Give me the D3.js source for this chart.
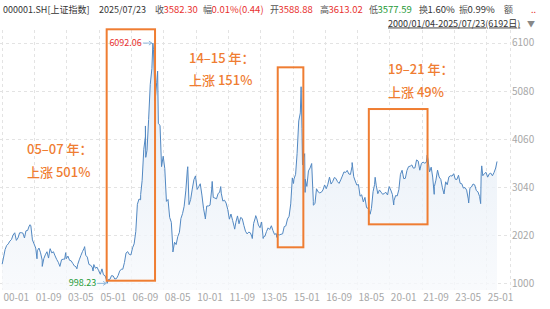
<!DOCTYPE html>
<html>
<head>
<meta charset="utf-8">
<script src="https://cdn.jsdelivr.net/npm/d3@7"></script>
<style>
  body { margin: 0; background: #fff; }
  svg { display: block; font-family: "Noto Sans CJK SC", "Noto Sans", sans-serif; }
</style>
</head>
<body>
<div id="chart"></div>
<script>
// Month-end closes of the Shanghai Composite, 2000-01 .. 2025-06.
var firstYear = 2000;
var monthlyClose = [
  1535, 1714, 1800, 1836, 1894, 1928, 2023, 2071, 1910, 1961, 2070, 2073,
  2066, 1960, 2112, 2120, 2214, 2218, 1920, 1834, 1747, 1690, 1747, 1646,
  1491, 1524, 1604, 1669, 1535, 1733, 1644, 1669, 1581, 1507, 1445, 1358,
  1500, 1511, 1511, 1521, 1577, 1487, 1477, 1421, 1367, 1349, 1397, 1497,
  1590, 1676, 1742, 1595, 1555, 1399, 1386, 1342, 1397, 1320, 1341, 1267,
  1191, 1306, 1181, 1160, 1060, 1081, 1083, 1163, 1155, 1092, 1099, 1161,
  1258, 1299, 1299, 1440, 1641, 1672, 1612, 1601, 1752, 1837, 2099, 2675,
  2786, 2881, 3183, 3841, 4109, 3820, 4471, 5218, 5552, 5954, 4871, 5262,
  4383, 4349, 3473, 3693, 3433, 2736, 2776, 2397, 2293, 1729, 1871, 1821,
  1991, 2082, 2373, 2477, 2633, 2959, 3412, 2667, 2779, 2996, 3195, 3277,
  2989, 3051, 3110, 2870, 2592, 2398, 2638, 2639, 2656, 2979, 2820, 2808,
  2790, 2905, 2928, 2911, 2743, 2762, 2701, 2568, 2359, 2468, 2333, 2199,
  2292, 2428, 2262, 2396, 2372, 2225, 2103, 2047, 2086, 2069, 1980, 2269,
  2385, 2365, 2236, 2177, 2300, 1979, 1994, 2098, 2175, 2141, 2220, 2116,
  2033, 2056, 2033, 2026, 2039, 2048, 2201, 2217, 2364, 2420, 2683, 3235,
  3210, 3310, 3748, 4441, 4612, 4277, 3664, 3206, 3053, 3383, 3445, 3539,
  2738, 2688, 3004, 2938, 2917, 2930, 2979, 3085, 3005, 3100, 3250, 3104,
  3159, 3242, 3223, 3155, 3117, 3192, 3273, 3361, 3349, 3393, 3317, 3307,
  3481, 3259, 3169, 3082, 3095, 2847, 2876, 2725, 2821, 2603, 2588, 2494,
  2585, 2941, 3091, 3078, 2899, 2979, 2933, 2886, 2905, 2929, 2872, 3050,
  2977, 2880, 2750, 2860, 2852, 2985, 3310, 3396, 3218, 3225, 3392, 3473,
  3483, 3509, 3441, 3447, 3615, 3591, 3397, 3544, 3568, 3547, 3564, 3640,
  3362, 3462, 3252, 3047, 3186, 3399, 3253, 3202, 3024, 2893, 3151, 3089,
  3256, 3280, 3273, 3323, 3205, 3202, 3291, 3120, 3110, 3018, 3030, 2975,
  2789, 3015, 3041, 3105, 3087, 2967, 2939, 2842, 3336, 3280, 3326, 3352,
  3250, 3321, 3336, 3279, 3347, 3444
];

// Intra-month turning points that show in the picture.
var keyDates = [
  "2000-01-04", "2001-06-13", "2001-10-22", "2002-01-29", "2002-06-25", "2003-04-15",
  "2003-11-13", "2004-04-07", "2004-09-13", "2005-06-06", "2007-02-27", "2007-05-29",
  "2007-06-04", "2007-10-16", "2008-01-14", "2008-10-28", "2009-08-04", "2010-07-02",
  "2010-11-08", "2011-04-18", "2012-01-06", "2012-12-03", "2013-02-06", "2013-06-27",
  "2014-03-10", "2015-01-19", "2015-06-12", "2015-07-08", "2015-07-24", "2015-08-18",
  "2015-08-26", "2016-01-28", "2018-01-29", "2019-01-03", "2019-04-08", "2020-03-23",
  "2021-12-13", "2022-04-26", "2024-02-05", "2024-09-18", "2024-10-08", "2025-07-23"
];
var keyValues = [
  1406, 2242, 1520, 1358, 1732, 1649,
  1307, 1777, 1260, 998.23, 2771, 4335,
  3670, 6092.06, 5497, 1664, 3471, 2363,
  3159, 3050, 2148, 1949, 2434, 1950,
  1974, 3116, 5166, 3507, 4070, 3748,
  2927, 2656, 3559, 2464, 3247, 2660,
  3715, 2886, 2702, 2689, 3489, 3582.30
];

var xTickLabels = ["00-01", "01-09", "03-05", "05-01", "06-09", "08-05", "10-01", "11-09",
                   "13-05", "15-01", "16-09", "18-05", "20-01", "21-09", "23-05", "25-01"];
var yTicks = [1000, 2020, 3040, 4060, 5080, 6100];

// Boxes around the three rallies: start, end, upper and lower index level.
var rallyFrom = ["2005-05-28", "2014-03-28", "2018-12-10"];
var rallyTo = ["2007-11-26", "2015-07-24", "2021-12-21"];
var rallyTop = [6384, 5578, 4694];
var rallyBottom = [1055, 1763, 2250];
var rallyYears = ["05–07 年：", "14–15 年：", "19–21 年："];
var rallyGain = ["上涨 501%", "上涨 151%", "上涨 49%"];

var quoteTitle = "000001.SH[上证指数]";
var quoteDate = "2025/07/23";
var quoteRange = "2000/01/04-2025/07/23(6192日)";

var width = 550, height = 309;
var red = "#e8312f", green = "#1e9a38", orange = "#ef7d32";

var parse = d3.timeParse("%Y-%m-%d");

var data = monthlyClose.map(function (v, i) {
  return {date: new Date(firstYear, i, 28), value: v};
});
keyDates.forEach(function (d, i) {
  data.push({date: parse(d), value: keyValues[i]});
});
data.sort(function (a, b) { return a.date - b.date; });

var svg = d3.select("#chart").append("svg")
  .attr("width", width)
  .attr("height", height);

var plotTop = 30, plotBottom = 290, plotRight = 510;

var x = d3.scaleTime()
  .domain([new Date(2000, 0, 1), parse("2025-07-23")])
  .range([2, 497]);
var y = d3.scaleLinear()
  .domain([1000, 6100])
  .range([283.3, 42.7]);

// Tick dates every 20 months, matching the labels.
var tickDates = xTickLabels.map(function (s) {
  var p = s.split("-");
  return new Date(2000 + +p[0], +p[1] - 1, 1);
});

// Grid.
var grid = svg.append("g")
  .attr("stroke", "#e3e3e3")
  .attr("stroke-dasharray", "3,3")
  .attr("stroke-width", 1);
grid.selectAll("line.h")
  .data(yTicks)
  .join("line")
    .attr("class", "h")
    .attr("x1", 0).attr("x2", plotRight)
    .attr("y1", d => Math.round(y(d)) + 0.5)
    .attr("y2", d => Math.round(y(d)) + 0.5);
grid.selectAll("line.v")
  .data(tickDates)
  .join("line")
    .attr("class", "v")
    .attr("x1", d => Math.round(x(d)) + 0.5)
    .attr("x2", d => Math.round(x(d)) + 0.5)
    .attr("y1", plotTop).attr("y2", plotBottom);
grid.append("line")
  .attr("x1", plotRight + 0.5).attr("x2", plotRight + 0.5)
  .attr("y1", plotTop).attr("y2", plotBottom);

// Area + line.
var defs = svg.append("defs");
var grad = defs.append("linearGradient")
  .attr("id", "fillGrad")
  .attr("x1", 0).attr("y1", 0).attr("x2", 0).attr("y2", 1);
grad.append("stop").attr("offset", "0%").attr("stop-color", "#dde8f4");
grad.append("stop").attr("offset", "100%").attr("stop-color", "#f7f9fc");

var area = d3.area()
  .x(d => x(d.date))
  .y0(plotBottom)
  .y1(d => y(d.value));
var line = d3.line()
  .x(d => x(d.date))
  .y(d => y(d.value));

svg.append("path")
  .datum(data)
  .attr("d", area)
  .attr("fill", "url(#fillGrad)")
  .attr("opacity", 0.8);
svg.append("path")
  .datum(data)
  .attr("d", line)
  .attr("fill", "none")
  .attr("stroke", "#5288c2")
  .attr("stroke-width", 1)
  .attr("stroke-linejoin", "round");

// Axes labels.
var xAxis = d3.axisBottom(x)
  .tickValues(tickDates)
  .tickSize(0)
  .tickFormat((d, i) => xTickLabels[i]);
var gx = svg.append("g")
  .attr("transform", "translate(0," + 290 + ")")
  .call(xAxis);
gx.select(".domain").remove();
gx.selectAll("text")
  .attr("text-anchor", "start")
  .attr("dx", 1)
  .attr("dy", 0)
  .attr("y", 10.5)
  .attr("fill", "#a8a8a8")
  .style("font-size", "10px")
  .style("font-family", "'Noto Sans CJK SC', sans-serif");

var yAxis = d3.axisRight(y)
  .tickValues(yTicks)
  .tickSize(0)
  .tickFormat(d3.format("d"));
var gy = svg.append("g")
  .attr("transform", "translate(" + 512 + ",0)")
  .call(yAxis);
gy.select(".domain").remove();
gy.selectAll("text")
  .attr("x", 0)
  .attr("fill", "#a8a8a8")
  .style("font-size", "10px")
  .style("font-family", "'Noto Sans CJK SC', sans-serif");

// Max / min markers.
var maxPt = data.reduce((a, b) => b.value > a.value ? b : a);
var minPt = data.reduce((a, b) => b.value < a.value ? b : a);

function marker(pt, color, dy) {
  var px = x(pt.date), py = y(pt.value);
  var g = svg.append("g");
  var x0 = px - 10;
  g.append("line")
    .attr("x1", x0).attr("x2", px - 1)
    .attr("y1", py).attr("y2", py)
    .attr("stroke", "#8fb8dd").attr("stroke-width", 1);
  g.append("path")
    .attr("d", "M" + (px - 4) + "," + (py - 2) + "L" + (px - 1) + "," + py + "L" + (px - 4) + "," + (py + 2))
    .attr("fill", "none").attr("stroke", "#8fb8dd").attr("stroke-width", 1);
  g.append("text")
    .attr("x", x0 - 1)
    .attr("y", py + dy)
    .attr("text-anchor", "end")
    .attr("fill", color)
    .style("font-size", "9px")
    .text(d3.format(".2f")(pt.value));
}
marker(maxPt, red, 3);
marker(minPt, green, 2.5);

// Rally boxes and annotations.
var labelPos = [[27, 154], [189, 62.5], [388, 74]];
rallyFrom.forEach(function (f, i) {
  var x0 = x(parse(f)), x1 = x(parse(rallyTo[i]));
  var y0 = y(rallyTop[i]), y1 = y(rallyBottom[i]);
  svg.append("rect")
    .attr("x", x0).attr("y", y0)
    .attr("width", x1 - x0).attr("height", y1 - y0)
    .attr("fill", "none")
    .attr("stroke", orange)
    .attr("stroke-width", 2);
  var t = svg.append("g")
    .attr("fill", orange)
    .style("font-size", "13px")
    .style("font-weight", 500);
  t.append("text")
    .attr("x", labelPos[i][0]).attr("y", labelPos[i][1])
    .text(rallyYears[i]);
  t.append("text")
    .attr("x", labelPos[i][0]).attr("y", labelPos[i][1] + 22.5)
    .text(rallyGain[i]);
});

// Quote header.
var quote = [
  ["收", "3582.30", red], ["幅", "0.01%(0.44)", red], ["开", "3588.88", red],
  ["高", "3613.02", red], ["低", "3577.59", green], ["换", "1.60%", "#333"],
  ["振", "0.99%", "#333"], ["额", "", "#333"]
];
var quoteX = [155, 203, 270, 320, 369, 419, 459, 504];
var head = svg.append("g").style("font-size", "9px");
head.append("text").attr("x", 3).attr("y", 12.5).attr("fill", "#333").text(quoteTitle);
head.append("text").attr("x", 99).attr("y", 12.5).attr("fill", "#333").text(quoteDate);
quote.forEach(function (q, i) {
  head.append("text").attr("x", quoteX[i]).attr("y", 12.5).attr("fill", "#555").text(q[0]);
  head.append("text").attr("x", quoteX[i] + 8.5).attr("y", 12.5).attr("fill", q[2])
    .style("font-size", "9.5px").text(q[1]);
});
head.append("text").attr("x", 531).attr("y", 12.5).attr("fill", red).text("..");
head.append("text").attr("x", 388).attr("y", 26.5).attr("fill", "#333")
  .attr("text-decoration", "underline").text(quoteRange);
head.append("text").attr("x", 527).attr("y", 26.5).attr("fill", "#888")
  .style("font-size", "8px").text("▼");
</script>
</body>
</html>
